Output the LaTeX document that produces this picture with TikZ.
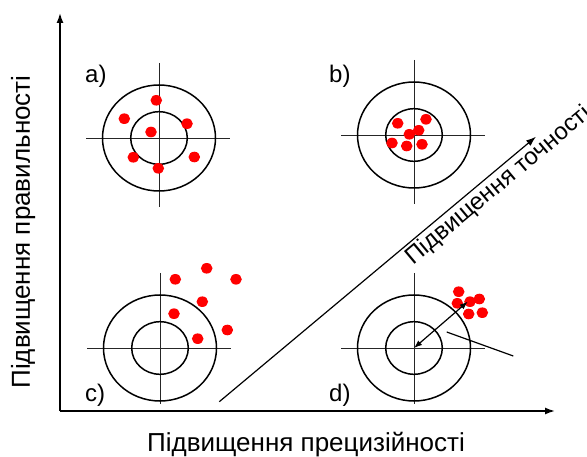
\documentclass[tikz,border=0pt]{standalone}
\usepackage{fontspec}
\setmainfont{Liberation Sans}
\usetikzlibrary{arrows.meta}

\begin{document}
\begin{tikzpicture}[x=1pt,y=-1pt,>={Latex[length=10pt,width=7pt]},
    every node/.style={font=\fontsize{24}{28}\selectfont},
    axislabel/.style={anchor=base,font=\fontsize{26}{30}\selectfont},
    tag/.style={anchor=base west,inner sep=0pt},
    ring/.style={line width=1.5pt},
    cross/.style={line width=0.9pt,black!85},
    hit/.style={fill=red}]
  \useasboundingbox (0,0) rectangle (587,457);

  % axes
  \coordinate (origin) at (60,411);
  \coordinate (xtip) at (555,411);
  \coordinate (ytip) at (60,13);
  \draw[->,line width=1.5pt] (origin) -- (xtip);
  \draw[->,line width=1.5pt] (origin) -- (ytip);
  \node[axislabel] (xlab) at (306,451) {Підвищення прецизійності};
  \node[axislabel,rotate=90] (ylab) at (30,232) {Підвищення правильності};

  % targets
  \coordinate (ta) at (159,138);
  \coordinate (tb) at (414,135);
  \coordinate (tc) at (160,348);
  \coordinate (td) at (414,348);
  \foreach \t/\down in {ta/69,tb/69,tc/56,td/56} {
    \draw[cross] ([shift={(-73,0)}]\t) -- ([shift={(71,0)}]\t);
    \draw[cross] ([shift={(0,-75)}]\t) -- ([shift={(0,\down)}]\t);
    \draw[ring] (\t) ellipse [x radius=56.5pt, y radius=53pt];
    \draw[ring] (\t) ellipse [x radius=28.3pt, y radius=26.3pt];
  }
  \node[tag] (la) at (85,83) {a)};
  \node[tag] (lb) at (329,83) {b)};
  \node[tag] (lc) at (85,401) {c)};
  \node[tag] (ld) at (329,401) {d)};

  % hits
  \foreach \p in {(156.3,100.3),(124.3,118.7),(187,123.7),(151,132),
                  (133.3,157.3),(194.3,157),(158.3,168.3)}
    \fill[hit] \p ellipse [x radius=5.8pt, y radius=5.3pt];
  \foreach \p in {(397.7,123.3),(426,119.3),(418.7,130.3),(409.3,134.3),
                  (392,143),(406.7,146),(422,144.3)}
    \fill[hit] \p ellipse [x radius=5.8pt, y radius=5.3pt];
  \foreach \p in {(175.3,279.3),(206.7,268.3),(236,279.3),(202.3,301.7),
                  (174,313.7),(227.3,330),(197.7,338.7)}
    \fill[hit] \p ellipse [x radius=5.8pt, y radius=5.3pt];
  \foreach \p in {(458.7,291.7),(457.3,303.3),(470,301.7),(479.3,299),
                  (468.7,314),(482.3,312.7)}
    \fill[hit] \p ellipse [x radius=5.8pt, y radius=5.3pt];

  % offset in d)
  \coordinate (dcluster) at (467.7,301.7);
  \draw[<->,line width=1.2pt,>={Latex[length=8pt,width=6pt]}] (td) -- (dcluster);
  \coordinate (pin) at (446.7,332);
  \coordinate (pout) at (513.3,356);
  \draw[line width=1.2pt] (pin) -- (pout);

  % accuracy direction
  \coordinate (dstart) at (219.3,401.7);
  \coordinate (dtip) at (536,136.7);
  \draw[->,line width=1.2pt] (dstart) -- (dtip)
    node[pos=0.855,sloped,below,inner sep=2pt] (dlab) {Підвищення точності};
\end{tikzpicture}
\end{document}
